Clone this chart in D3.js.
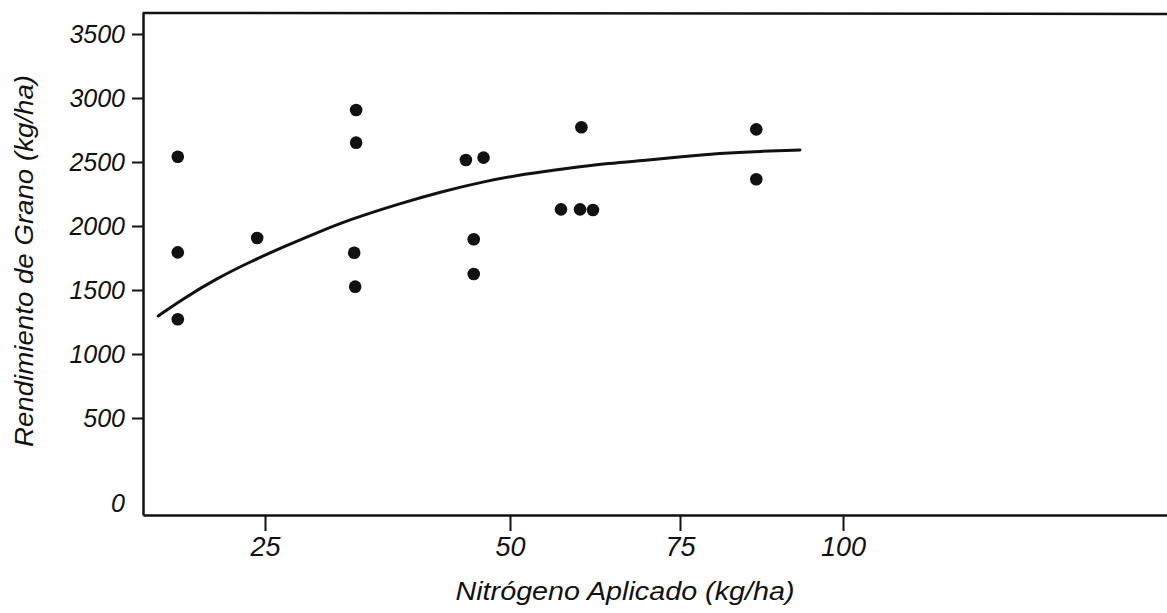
<!DOCTYPE html>
<html>
<head>
<meta charset="utf-8">
<script src="https://cdn.jsdelivr.net/npm/d3@7"></script>
<style>
  html, body { margin: 0; padding: 0; background: #fff; }
  svg { display: block; }
  text { font-family: "Liberation Sans", Arial, sans-serif; font-style: italic; fill: #111; }
</style>
</head>
<body>
<svg id="chart" width="1167" height="613"></svg>
<script>
// ---- data ----
const xTicks = [25, 50, 75, 100];
const yTicks = [500, 1000, 1500, 2000, 2500, 3000, 3500];
const zeroLabel = "0";

// observed points: nitrogen applied (kg/ha) and grain yield (kg/ha)
const pointN     = [16.1, 16.1, 16.1, 24.2, 34.3, 34.3, 34.1, 34.2, 45.5, 47.3, 46.3, 46.3, 57.5, 60.3, 62.2, 60.5, 86.7, 86.7];
const pointYield = [2541, 1794, 1271, 1906, 2906, 2651, 1791, 1526, 2516, 2534, 1896, 1625, 2130, 2130, 2125, 2771, 2755, 2365];

// fitted response curve
const curveN     = [14.1, 16.7, 20.1, 23.5, 26.9, 30.3, 33.7, 38.8, 43.0, 47.2, 52.2, 58.3, 64.5, 70.6, 75.0, 81.1, 87.3, 93.4];
const curveYield = [1297, 1435, 1591, 1721, 1838, 1948, 2052, 2177, 2268, 2346, 2406, 2451, 2490, 2516, 2541, 2568, 2584, 2594];

const xTitle = "Nitrógeno Aplicado (kg/ha)";
const yTitle = "Rendimiento de Grano (kg/ha)";

// ---- layout ----
const W = 1167, H = 613;
const plotLeft = 143, plotTop = 12, plotBottom = 515;
const svg = d3.select("#chart");
svg.append("rect").attr("width", W).attr("height", H).attr("fill", "#fff");

// the printed x axis is irregularly spaced: piecewise-linear scale through the tick marks
const x = d3.scaleLinear()
  .domain([12.55, 25, 50, 75, 100, 149.7])
  .range([plotLeft, 265, 510, 680, 843, W]);
const y = d3.scaleLinear()
  .domain([-257.8, 3671.9])
  .range([plotBottom, plotTop]);

const ink = "#111";

// frame top line
svg.append("line")
  .attr("x1", plotLeft).attr("x2", W).attr("y1", plotTop + 1).attr("y2", plotTop + 2)
  .attr("stroke", ink).attr("stroke-width", 2.5);

// y axis
const yAxis = svg.append("g")
  .attr("transform", `translate(${plotLeft},0)`)
  .call(d3.axisLeft(y).tickValues(yTicks).tickSize(11).tickSizeOuter(0).tickPadding(7).tickFormat(d3.format("d")));
yAxis.select(".domain").attr("stroke", ink).attr("stroke-width", 2.5);
yAxis.selectAll(".tick line").attr("stroke", ink).attr("stroke-width", 2);
yAxis.selectAll(".tick text").attr("font-size", 25).attr("font-family", "Liberation Sans, Arial, sans-serif")
  .style("font-style", "italic").attr("fill", ink);

// x axis
const xAxis = svg.append("g")
  .attr("transform", `translate(0,${plotBottom})`)
  .call(d3.axisBottom(x).tickValues(xTicks).tickSize(16).tickSizeOuter(0).tickPadding(6).tickFormat(d3.format("d")));
xAxis.select(".domain").attr("stroke", ink).attr("stroke-width", 2.5);
xAxis.selectAll(".tick line").attr("stroke", ink).attr("stroke-width", 2);
xAxis.selectAll(".tick text").attr("font-size", 27).attr("font-family", "Liberation Sans, Arial, sans-serif")
  .style("font-style", "italic").attr("fill", ink);

// lone zero label at the axis corner
svg.append("text")
  .attr("x", plotLeft - 18).attr("y", plotBottom - 12).attr("dy", "0.35em")
  .attr("text-anchor", "end").attr("font-size", 25)
  .text(zeroLabel);

// fitted curve
const curveData = curveN.map((n, i) => [n, curveYield[i]]);
svg.append("path")
  .datum(curveData)
  .attr("fill", "none").attr("stroke", ink).attr("stroke-width", 3)
  .attr("stroke-linecap", "round")
  .attr("d", d3.line().x(d => x(d[0])).y(d => y(d[1])).curve(d3.curveBasis));

// points
svg.append("g").selectAll("circle")
  .data(pointN.map((n, i) => [n, pointYield[i]]))
  .join("circle")
  .attr("cx", d => x(d[0])).attr("cy", d => y(d[1]))
  .attr("r", 6.3).attr("fill", ink);

// axis titles
svg.append("text")
  .attr("x", 625).attr("y", 600)
  .attr("text-anchor", "middle").attr("font-size", 25)
  .attr("textLength", 339).attr("lengthAdjust", "spacingAndGlyphs")
  .text(xTitle);
svg.append("text")
  .attr("transform", "translate(33,261) rotate(-90)")
  .attr("text-anchor", "middle").attr("font-size", 25)
  .attr("textLength", 372).attr("lengthAdjust", "spacingAndGlyphs")
  .text(yTitle);
</script>
</body>
</html>
